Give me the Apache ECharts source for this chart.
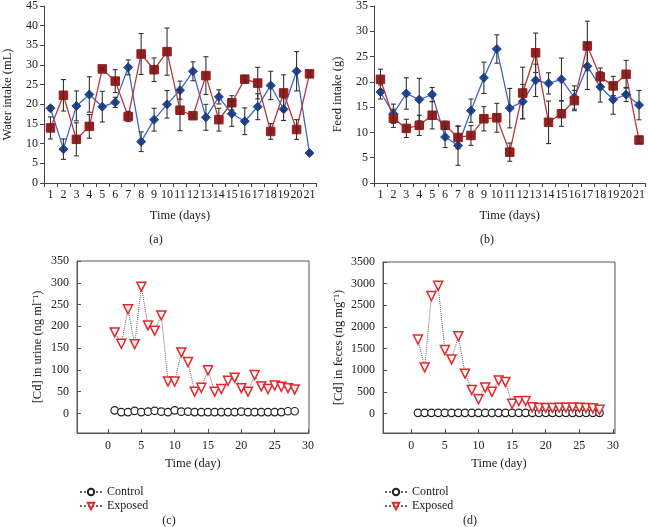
<!DOCTYPE html>
<html>
<head>
<meta charset="utf-8">
<script src="https://cdn.jsdelivr.net/npm/echarts@6/dist/echarts.min.js"></script>
<style>
html,body{margin:0;padding:0;background:#fff;}
#chart{width:648px;height:527px;}
</style>
</head>
<body>
<div id="chart"></div>
<script>
// ---------- Data ----------
const dayLabels = ['1','2','3','4','5','6','7','8','9','10','11','12','13','14','15','16','17','18','19','20','21'];

const waterBlue    = [19.0,8.6,19.6,22.5,19.4,20.5,29.4,10.5,16.1,20.0,23.6,28.4,16.7,21.9,17.6,15.7,19.4,24.8,18.75,28.4,7.6];
const waterBlueErr = [0.6,2.6,3.8,4.5,3.9,1.3,1.9,2.5,2.9,3.5,2.3,2.4,3.3,1.8,3.2,3.4,3.3,3.6,2.85,5.0,0.4];
const waterRed     = [14.0,22.3,11.1,14.4,29.0,25.9,16.9,32.8,28.8,33.4,18.5,17.1,27.3,16.1,20.4,26.4,25.4,13.1,22.9,13.6,27.75];
const waterRedErr  = [2.8,4.0,4.2,3.0,0.3,2.9,1.3,5.2,3.0,6.0,5.2,0.4,4.8,2.9,1.8,0.9,4.0,2.0,4.6,2.5,0.8];

const feedBlue     = [18.0,13.7,17.7,16.5,17.5,9.1,7.4,14.3,20.8,26.5,14.8,16.1,20.3,19.7,20.5,16.9,23.1,19.0,16.5,17.5,15.4];
const feedBlueErr  = [1.4,1.9,3.1,4.2,1.4,2.1,3.9,2.3,3.1,2.8,3.9,3.4,3.2,2.1,4.2,2.3,4.6,3.0,2.9,1.4,2.9];
const feedRed      = [20.5,12.8,10.8,11.4,13.4,11.4,9.0,9.4,12.7,12.9,6.1,17.8,25.75,12.0,13.7,16.3,27.1,21.0,19.2,21.5,8.5];
const feedRedErr   = [2.0,1.8,1.8,2.0,2.7,0.8,2.2,1.95,2.4,2.85,1.8,5.1,3.9,4.2,2.5,2.0,4.9,1.75,1.9,2.75,0.7];

const cdDays        = [1,2,3,4,5,6,7,8,9,10,11,12,13,14,15,16,17,18,19,20,21,22,23,24,25,26,27,28];
const urineControl  = [7,3,3,6,3,4,6,4,3,7,4,4,3,3,3,3,3,3,3,4,3,3,3,3,3,3,5,5];
const urineExposed  = [186,160,239,159,291,202,190,225,73,73,140,118,50,59,99,50,56,75,82,58,50,88,62,56,64,61,58,55];
const fecesControl  = [15,15,15,15,15,15,15,15,15,15,15,15,15,15,15,15,15,15,15,15,15,15,15,15,15,15,15,15];
const fecesExposed  = [1710,1065,2715,2950,1465,1250,1785,920,545,330,600,500,765,730,225,285,290,145,125,130,130,135,135,140,135,125,120,85];

const intakeTicks = { water: [0,45,5], feed: [0,35,5] };
const urineTicks = [0,50,100,150,200,250,300,350];
const fecesTicks = [0,500,1000,1500,2000,2500,3000,3500];
const dayTicks = [0,5,10,15,20,25,30];

// ---------- Styles ----------
const FONT = "'Liberation Serif','Times New Roman',serif";
const TXT = '#222';
const AX = '#444';
const BLUE_LINE = '#3b67c9', BLUE_MK = '#1d46a0';
const RED_LINE = '#b8373a', RED_MK = '#9e1b1b';

function zip3(means, errs) {
  return means.map((m, i) => [i, m - errs[i], m + errs[i]]);
}
function zipXY(xs, ys) { return xs.map((x, i) => [x, ys[i]]); }

function errRender(params, api) {
  const x = api.value(0);
  const lo = api.coord([x, api.value(1)]);
  const hi = api.coord([x, api.value(2)]);
  const hw = 2.5;
  const st = { stroke: '#333', lineWidth: 1.1 };
  return {
    type: 'group',
    children: [
      { type: 'line', shape: { x1: lo[0], y1: lo[1], x2: hi[0], y2: hi[1] }, style: st },
      { type: 'line', shape: { x1: lo[0]-hw, y1: lo[1], x2: lo[0]+hw, y2: lo[1] }, style: st },
      { type: 'line', shape: { x1: hi[0]-hw, y1: hi[1], x2: hi[0]+hw, y2: hi[1] }, style: st }
    ]
  };
}

const labelStyle = { color: TXT, fontFamily: FONT, fontSize: 12 };
const nameStyle = { color: TXT, fontFamily: FONT, fontSize: 12.5 };
const plain = v => String(v);

function catX(gi, name) {
  return {
    type: 'category', gridIndex: gi, data: dayLabels, boundaryGap: true,
    axisLine: { show: true, lineStyle: { color: AX, width: 1 } },
    axisTick: { show: true, length: 4, lineStyle: { color: AX } },
    axisLabel: Object.assign({ margin: 6, interval: 0 }, labelStyle),
    splitLine: { show: false },
    name: name, nameLocation: 'middle', nameGap: 26, nameTextStyle: nameStyle
  };
}
function valY(gi, t, name) {
  return {
    type: 'value', gridIndex: gi, min: t[0], max: t[1], interval: t[2],
    axisLine: { show: true, lineStyle: { color: AX, width: 1 } },
    axisTick: { show: true, length: 4, lineStyle: { color: AX } },
    axisLabel: Object.assign({ margin: 6 }, labelStyle),
    splitLine: { show: false },
    name: name, nameLocation: 'middle', nameGap: 30, nameTextStyle: nameStyle
  };
}
function boxX(gi, min, max) {
  return {
    type: 'value', gridIndex: gi, min: min, max: max,
    axisLine: { show: true, onZero: false, lineStyle: { color: '#555' } },
    axisTick: { show: true, inside: true, length: 4, customValues: dayTicks, lineStyle: { color: '#555' } },
    axisLabel: Object.assign({ margin: 7, customValues: dayTicks, formatter: plain }, labelStyle),
    splitLine: { show: false },
    name: 'Time (day)', nameLocation: 'middle', nameGap: 24, nameTextStyle: nameStyle
  };
}
function boxY(gi, min, max, ticks, name, gap) {
  return {
    type: 'value', gridIndex: gi, min: min, max: max,
    axisLine: { show: true, onZero: false, lineStyle: { color: '#555' } },
    axisTick: { show: true, inside: true, length: 4, customValues: ticks, lineStyle: { color: '#555' } },
    axisLabel: Object.assign({ margin: 8, customValues: ticks, formatter: plain }, labelStyle),
    splitLine: { show: false },
    name: name, nameLocation: 'middle', nameGap: gap, nameTextStyle: nameStyle
  };
}

function intakeLines(gi, blue, red) {
  return [
    { type: 'line', name: 'Group A ' + gi, xAxisIndex: gi, yAxisIndex: gi, data: blue,
      symbol: 'diamond', symbolSize: 9, z: 5,
      lineStyle: { color: BLUE_LINE, width: 1.3 },
      itemStyle: { color: BLUE_MK, borderColor: BLUE_MK } },
    { type: 'line', name: 'Group B ' + gi, xAxisIndex: gi, yAxisIndex: gi, data: red,
      symbol: 'rect', symbolSize: 8.5, z: 5,
      lineStyle: { color: RED_LINE, width: 1.3 },
      itemStyle: { color: RED_MK, borderColor: RED_MK } }
  ];
}
function errSeries(gi, means, errs) {
  return { type: 'custom', xAxisIndex: gi, yAxisIndex: gi, renderItem: errRender,
           data: zip3(means, errs), z: 6, silent: true };
}
function cdSeries(gi, ctrl, expo) {
  return [
    { type: 'line', name: 'Control', xAxisIndex: gi, yAxisIndex: gi, data: zipXY(cdDays, ctrl),
      symbol: 'circle', symbolSize: 7.5, showAllSymbol: true,
      lineStyle: { color: '#666', width: 1, type: 'dotted' },
      itemStyle: { color: '#fff', borderColor: '#222', borderWidth: 1.2 } },
    { type: 'line', name: 'Exposed', xAxisIndex: gi, yAxisIndex: gi, data: zipXY(cdDays, expo),
      symbol: 'triangle', symbolRotate: 180, symbolSize: 9, showAllSymbol: true,
      lineStyle: { color: '#666', width: 1, type: 'dotted' },
      itemStyle: { color: '#fff', borderColor: '#e8262b', borderWidth: 1.5 } }
  ];
}

const chart = echarts.init(document.getElementById('chart'), null, { renderer: 'canvas' });
chart.setOption({
  animation: false,
  backgroundColor: '#fff',
  textStyle: { fontFamily: FONT },
  grid: [
    { left: 44, top: 5, width: 272, height: 178 },
    { left: 374, top: 5, width: 273, height: 178 },
    { left: 77, top: 261, width: 232, height: 172, show: true, borderColor: '#555', borderWidth: 1 },
    { left: 383, top: 262, width: 232, height: 171, show: true, borderColor: '#555', borderWidth: 1 }
  ],
  xAxis: [
    catX(0, 'Time (days)'),
    catX(1, 'Time (days)'),
    boxX(2, -4.65, 30.15),
    boxX(3, -4.2, 30.3)
  ],
  yAxis: [
    valY(0, intakeTicks.water, 'Water intake (mL)'),
    valY(1, intakeTicks.feed, 'Feed intake (g)'),
    boxY(2, -45, 350, urineTicks, '[Cd] in urine (ng ml\u207B\u00B9)', 33),
    boxY(3, -450, 3500, fecesTicks, '[Cd] in feces (ng mg\u207B\u00B9)', 38)
  ],
  legend: [
    { left: 74, top: 481, orient: 'vertical', itemGap: 2, itemWidth: 22, itemHeight: 8,
      data: ['Control', 'Exposed'], textStyle: labelStyle, selectedMode: false },
    { left: 379, top: 481, orient: 'vertical', itemGap: 2, itemWidth: 22, itemHeight: 8,
      data: ['Control', 'Exposed'], textStyle: labelStyle, selectedMode: false }
  ],
  graphic: [
    { type: 'text', x: 156, y: 240, style: { text: '(a)', font: '12px ' + FONT, fill: TXT, align: 'center', verticalAlign: 'middle' } },
    { type: 'text', x: 487, y: 240, style: { text: '(b)', font: '12px ' + FONT, fill: TXT, align: 'center', verticalAlign: 'middle' } },
    { type: 'text', x: 169, y: 521, style: { text: '(c)', font: '12px ' + FONT, fill: TXT, align: 'center', verticalAlign: 'middle' } },
    { type: 'text', x: 470, y: 521, style: { text: '(d)', font: '12px ' + FONT, fill: TXT, align: 'center', verticalAlign: 'middle' } }
  ],
  series: [
    ...intakeLines(0, waterBlue, waterRed),
    errSeries(0, waterBlue, waterBlueErr),
    errSeries(0, waterRed, waterRedErr),
    ...intakeLines(1, feedBlue, feedRed),
    errSeries(1, feedBlue, feedBlueErr),
    errSeries(1, feedRed, feedRedErr),
    ...cdSeries(2, urineControl, urineExposed),
    ...cdSeries(3, fecesControl, fecesExposed)
  ]
});
</script>
</body>
</html>
